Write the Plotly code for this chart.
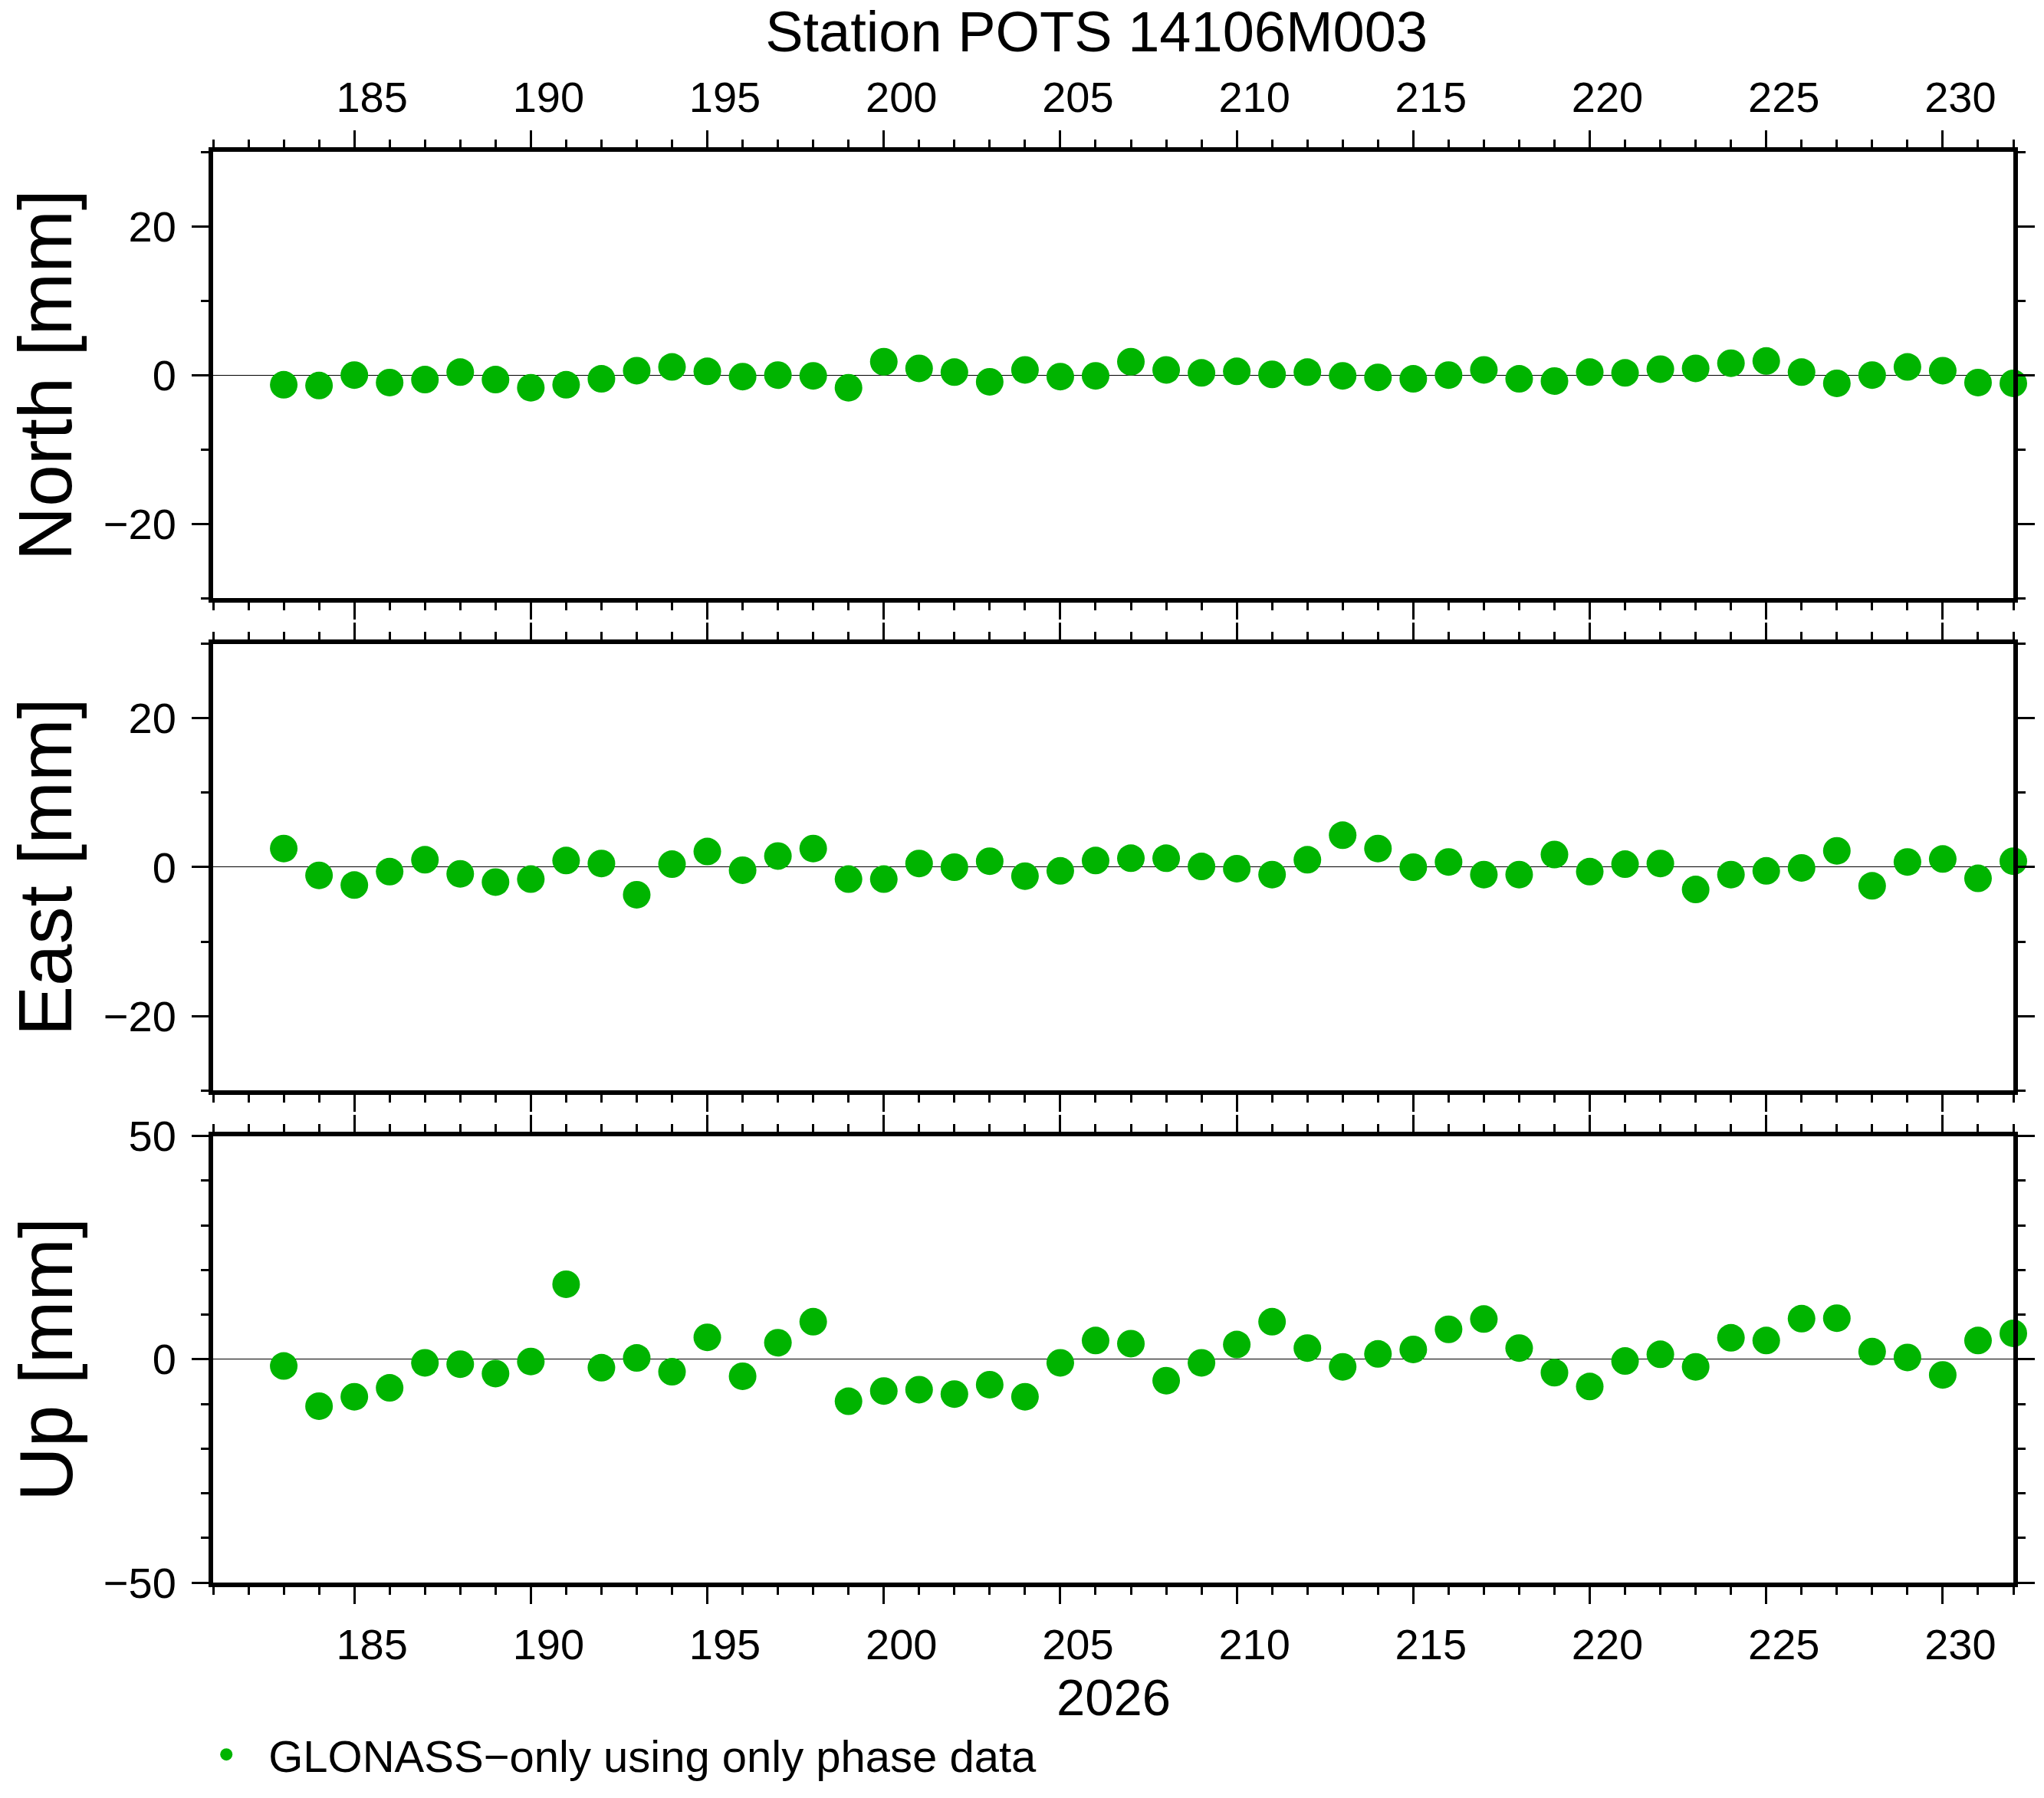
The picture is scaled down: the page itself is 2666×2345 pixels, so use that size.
import plotly.graph_objects as go
from plotly.subplots import make_subplots

# day of year 2026
days = [183, 184, 185, 186, 187, 188, 189, 190, 191, 192,
        193, 194, 195, 196, 197, 198, 199, 200, 201, 202,
        203, 204, 205, 206, 207, 208, 209, 210, 211, 212,
        213, 214, 215, 216, 217, 218, 219, 220, 221, 222,
        223, 224, 225, 226, 227, 228, 229, 230, 231, 232]

# residuals in mm
north = [-1.3, -1.4, 0.0, -1.0, -0.6, 0.4, -0.6, -1.7, -1.3, -0.5,
         0.6, 1.1, 0.5, -0.2, 0.0, -0.1, -1.7, 1.8, 0.9, 0.4,
         -0.9, 0.7, -0.2, -0.1, 1.8, 0.7, 0.3, 0.5, 0.1, 0.4,
         -0.1, -0.3, -0.5, 0.0, 0.7, -0.5, -0.8, 0.4, 0.3, 0.8,
         0.9, 1.6, 1.9, 0.4, -1.1, 0.0, 1.1, 0.6, -1.0, -1.1]
east = [2.5, -1.1, -2.4, -0.6, 1.0, -0.9, -2.0, -1.6, 0.9, 0.5,
        -3.7, 0.4, 2.1, -0.4, 1.5, 2.5, -1.6, -1.6, 0.5, 0.0,
        0.8, -1.2, -0.5, 0.9, 1.2, 1.2, 0.1, -0.2, -1.0, 1.0,
        4.3, 2.5, 0.0, 0.7, -1.0, -1.0, 1.7, -0.6, 0.4, 0.5,
        -3.0, -1.0, -0.5, -0.1, 2.2, -2.5, 0.7, 1.1, -1.5, 0.8]
up = [-1.5, -10.5, -8.4, -6.4, -0.8, -1.1, -3.2, -0.5, 16.8, -1.9,
      0.3, -2.8, 4.9, -3.8, 3.7, 8.4, -9.4, -7.1, -6.8, -7.8,
      -5.7, -8.4, -0.8, 4.2, 3.5, -4.8, -0.8, 3.3, 8.4, 2.5,
      -1.7, 1.2, 2.2, 6.7, 9.0, 2.5, -3.0, -6.1, -0.4, 1.1,
      -1.7, 4.8, 4.2, 9.1, 9.2, 1.7, 0.4, -3.5, 4.2, 5.8]

panel_titles = ["North [mm]", "East [mm]", "Up [mm]"]
y_ranges = [[-30, 30], [-30, 30], [-50, 50]]
y_major = [20, 20, 50]
series_name = "GLONASS\u2212only using only phase data"
title_text = "Station POTS 14106M003"
year_label = "2026"

GREEN = "rgb(0,180,0)"
FONT = "Liberation Sans"

# page geometry (px)
W, H = 2666, 2345
L, R, T, B = 278, 26, 198, 260
plot_w = W - L - R
plot_h = H - T - B
panel_px = [(198, 787), (847, 1436), (1496, 2085)]
domains = [[(H - B - bot) / plot_h, (H - B - top) / plot_h] for top, bot in panel_px]

fig = make_subplots(rows=3, cols=1)

for i, vals in enumerate([north, east, up]):
    fig.add_trace(
        go.Scatter(
            x=days, y=vals, mode="markers", name=series_name,
            marker=dict(color=GREEN, size=36, line=dict(width=0)),
            cliponaxis=False, showlegend=(i == 0),
        ),
        row=i + 1, col=1,
    )

axis_common = dict(
    showline=True, linecolor="black", linewidth=6, mirror="ticks",
    ticks="outside", ticklen=22, tickwidth=3, tickcolor="black",
    showgrid=False,
    tickfont=dict(family=FONT, size=56, color="black"),
)

for i in range(3):
    n = "" if i == 0 else str(i + 1)
    # day labels sit in the middle of the day interval
    fig.layout["xaxis" + n].update(
        range=[181, 232], tick0=180, dtick=5,
        minor=dict(dtick=1, ticklen=10, tickwidth=3, tickcolor="black", ticks="outside"),
        zeroline=False, domain=[0, 1],
        side="top" if i == 0 else "bottom",
        showticklabels=(i != 1),
        ticklabelshift=23,
        ticklabelstandoff=2 if i == 0 else 5,
        **axis_common,
    )
    fig.layout["yaxis" + n].update(
        range=y_ranges[i], tick0=0, dtick=y_major[i],
        minor=dict(dtick=10, ticklen=10, tickwidth=3, tickcolor="black", ticks="outside"),
        zeroline=True, zerolinecolor="black", zerolinewidth=1.2,
        domain=domains[i], ticklabelstandoff=9,
        **axis_common,
    )
    fig.add_annotation(
        text=panel_titles[i], showarrow=False, textangle=-90,
        xref="paper", x=(58 - L) / plot_w, xanchor="center",
        yref=("y" + n + " domain"), y=0.5, yanchor="middle",
        font=dict(family=FONT, size=98, color="black"),
    )

fig.add_annotation(
    text=year_label, showarrow=False,
    xref="x3 domain", x=0.5, xanchor="center",
    yref="paper", y=(H - B - 2236) / plot_h, yanchor="middle",
    font=dict(family=FONT, size=67, color="black"),
)

fig.update_layout(
    width=W, height=H,
    margin=dict(l=L, r=R, t=T, b=B),
    paper_bgcolor="white", plot_bgcolor="white",
    font=dict(family=FONT, color="black"),
    title=dict(
        text=title_text, xref="paper", x=(1437 - L) / plot_w, xanchor="center",
        yref="container", y=1 - 15 / H, yanchor="top",
        font=dict(family=FONT, size=74, color="black"),
    ),
    showlegend=True,
    legend=dict(
        x=(240 - L) / plot_w, xanchor="left", y=(H - B - 2312) / plot_h, yanchor="middle",
        bgcolor="rgba(0,0,0,0)", borderwidth=0, itemwidth=100,
        font=dict(family=FONT, size=58, color="black"),
    ),
)

page_fix = (
    "document.documentElement.style.margin='0px';"
    "document.documentElement.style.overflow='hidden';"
    "document.body.style.margin='0px';"
    "document.body.style.overflow='hidden';"
)
fig.write_html("out.html", config={"displayModeBar": False}, post_script=page_fix)
